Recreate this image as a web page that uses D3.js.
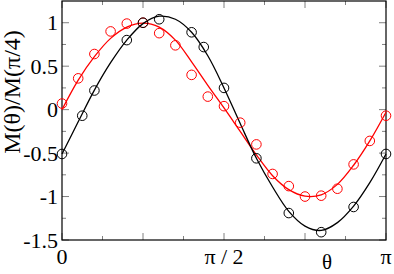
<!DOCTYPE html>
<html>
<head>
<meta charset="utf-8">
<script src="https://cdn.jsdelivr.net/npm/d3@7"></script>
<style>
html,body{margin:0;padding:0;background:#fff;}
svg{display:block;}
text{font-family:"Liberation Serif","Times New Roman",serif;fill:#000;}
</style>
</head>
<body>
<svg id="chart" width="394" height="274"></svg>
<script>
// ---- data (θ in units of π) ----
const blackTheta = [0, 0.0625, 0.1, 0.2, 0.25, 0.3, 0.4, 0.4375, 0.5, 0.6, 0.7, 0.8, 0.9, 1.0];
const blackVals  = [-0.51, -0.07, 0.22, 0.80, 1.00, 1.04, 0.89, 0.72, 0.25, -0.56, -1.19, -1.41, -1.12, -0.51];

const redTheta = [0, 0.05, 0.1, 0.15, 0.2, 0.25, 0.3, 0.35, 0.4, 0.45, 0.5, 0.55, 0.6, 0.65, 0.7, 0.75, 0.8, 0.85, 0.9, 0.95, 1.0];
const redVals  = [0.07, 0.36, 0.64, 0.90, 0.99, 1.00, 0.88, 0.74, 0.40, 0.15, 0.04, -0.15, -0.40, -0.74, -0.88, -1.00, -0.99, -0.91, -0.63, -0.36, -0.07];

const fitTheta = [0, 0.05, 0.1, 0.15, 0.2, 0.25, 0.3, 0.35, 0.4, 0.45, 0.5, 0.55, 0.6, 0.65, 0.7, 0.75, 0.8, 0.85, 0.9, 0.95, 1.0];
const blackFit = [-0.51, -0.14, 0.225, 0.54, 0.80, 0.99, 1.075, 1.04, 0.89, 0.62, 0.25, -0.16, -0.56, -0.89, -1.17, -1.34, -1.39, -1.30, -1.11, -0.84, -0.51];
const redFit   = [0.0, 0.34, 0.61, 0.82, 0.95, 0.995, 0.95, 0.80, 0.55, 0.28, 0.02, -0.25, -0.52, -0.76, -0.92, -0.995, -0.98, -0.86, -0.64, -0.36, -0.03];

const yTicks = [-1.5, -1, -0.5, 0, 0.5, 1];
const yMinor = [-1.25, -0.75, -0.25, 0.25, 0.75];
const xMajor = [0, 0.25, 0.5, 0.75, 1];
const xMinor = [0.125, 0.375, 0.625, 0.875];
const xLabels = [{v: 0, t: "0"}, {v: 0.5, t: "\u03c0 / 2"}, {v: 1, t: "\u03c0"}];
const yTitle = "M(\u03b8)/M(\u03c0/4)";
const xTitle = "\u03b8";

// ---- layout ----
const L = 62, R = 386, T = 1, B = 240;
const svg = d3.select("#chart");
const x = d3.scaleLinear().domain([0, 1]).range([L, R]);
const y = d3.scaleLinear().domain([-1.5, 1.25]).range([B, T]);

// ticks (inward on all four sides)
const tickG = svg.append("g").attr("stroke", "#808080").attr("stroke-width", 1);
function vTicks(vals, len) {
  vals.forEach(v => {
    tickG.append("line").attr("x1", x(v)).attr("x2", x(v)).attr("y1", B).attr("y2", B - len);
    tickG.append("line").attr("x1", x(v)).attr("x2", x(v)).attr("y1", T).attr("y2", T + len);
  });
}
function hTicks(vals, len) {
  vals.forEach(v => {
    tickG.append("line").attr("y1", y(v)).attr("y2", y(v)).attr("x1", L).attr("x2", L + len);
    tickG.append("line").attr("y1", y(v)).attr("y2", y(v)).attr("x1", R).attr("x2", R - len);
  });
}
vTicks(xMajor, 7); vTicks(xMinor, 4);
hTicks(yTicks, 7); hTicks(yMinor, 4);

// frame
svg.append("rect").attr("x", L).attr("y", T).attr("width", R - L).attr("height", B - T)
  .attr("fill", "none").attr("stroke", "#000").attr("stroke-width", 1.2);

// tick labels
svg.append("g").selectAll("text").data(yTicks).join("text")
  .attr("x", 58).attr("y", d => y(d)).attr("dy", "0.35em")
  .attr("text-anchor", "end").attr("font-size", 22)
  .text(d => String(d));
svg.append("g").selectAll("text").data(xLabels).join("text")
  .attr("x", d => x(d.v)).attr("y", 264)
  .attr("text-anchor", "middle").attr("font-size", 22)
  .text(d => d.t);

// axis titles
svg.append("text").attr("transform", "translate(20,92) rotate(-90)")
  .attr("text-anchor", "middle").attr("font-size", 24).text(yTitle);
svg.append("text").attr("x", 327).attr("y", 269)
  .attr("text-anchor", "middle").attr("font-size", 21).text(xTitle);

// fitted curves
const line = d3.line().x(d => x(d[0])).y(d => y(d[1])).curve(d3.curveCatmullRom.alpha(0.5));
svg.append("path").datum(fitTheta.map((t, i) => [t, redFit[i]]))
  .attr("d", line).attr("fill", "none").attr("stroke", "#ff0000").attr("stroke-width", 1.3);
svg.append("path").datum(fitTheta.map((t, i) => [t, blackFit[i]]))
  .attr("d", line).attr("fill", "none").attr("stroke", "#000").attr("stroke-width", 1.3);

// data points
svg.append("g").selectAll("circle").data(redTheta.map((t, i) => [t, redVals[i]])).join("circle")
  .attr("cx", d => x(d[0])).attr("cy", d => y(d[1])).attr("r", 4.8)
  .attr("fill", "none").attr("stroke", "#ff0000").attr("stroke-width", 1);
svg.append("g").selectAll("circle").data(blackTheta.map((t, i) => [t, blackVals[i]])).join("circle")
  .attr("cx", d => x(d[0])).attr("cy", d => y(d[1])).attr("r", 4.8)
  .attr("fill", "none").attr("stroke", "#000").attr("stroke-width", 1);
</script>
</body>
</html>
